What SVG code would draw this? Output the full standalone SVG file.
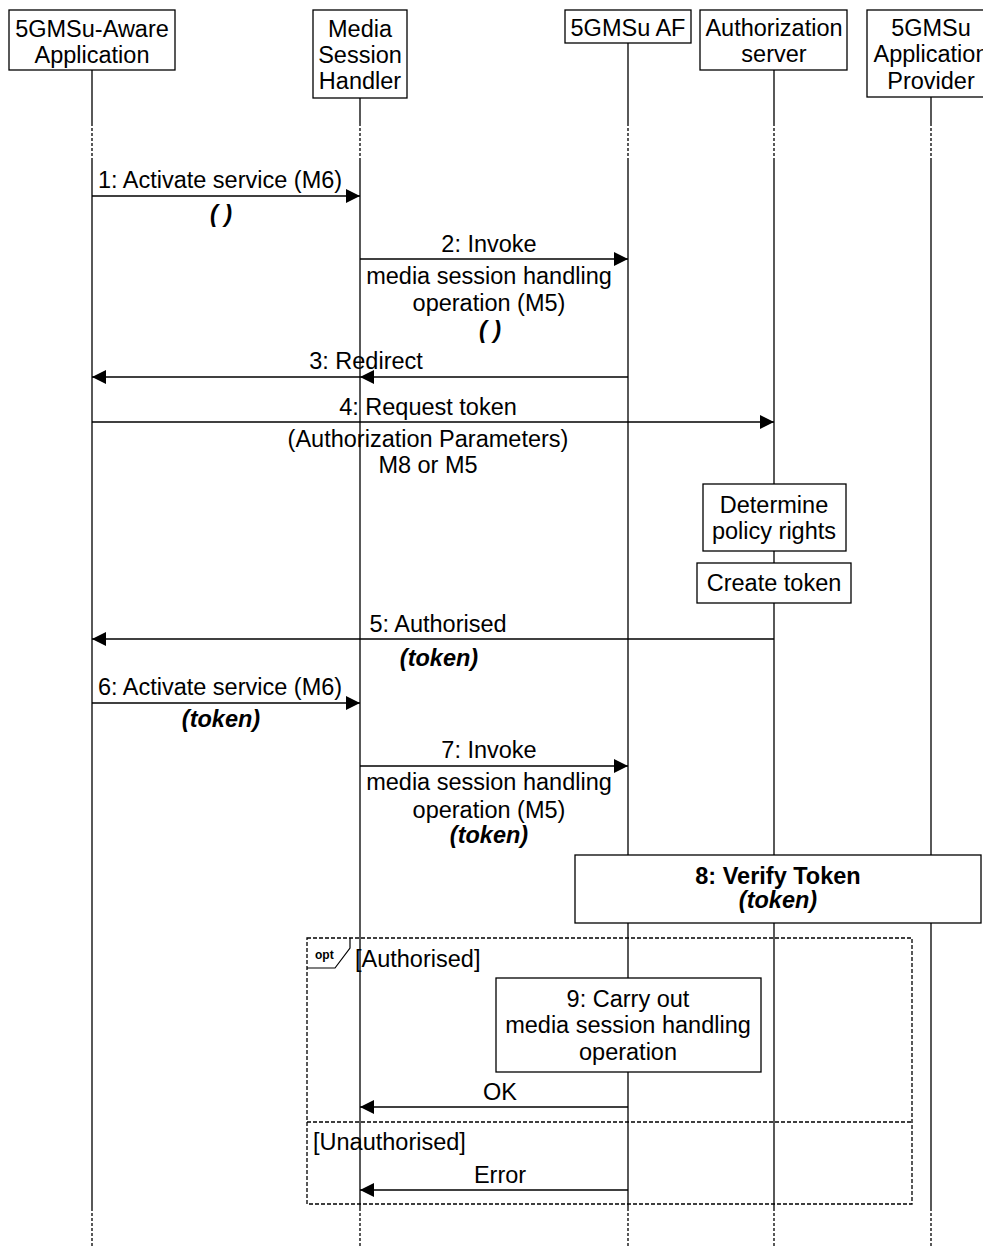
<svg xmlns="http://www.w3.org/2000/svg" width="983" height="1247" viewBox="0 0 983 1247">
<defs>
<marker id="ah" markerUnits="userSpaceOnUse" markerWidth="15" markerHeight="15" refX="14" refY="7" orient="auto">
<path d="M0,0 L14,7 L0,14 z" fill="#000"/>
</marker>
<style>
text{font-family:"Liberation Sans",Arial,sans-serif;font-size:23.5px;fill:#000;text-anchor:middle}
.bi{font-weight:bold;font-style:italic}
.b{font-weight:bold}
.l{text-anchor:start}
.box{fill:#fff;stroke:#000;stroke-width:1.3}
.ll{stroke:#000;stroke-width:1.3;fill:none}
.dl{stroke:#000;stroke-width:1.3;fill:none;stroke-dasharray:3,2}
.msg{stroke:#000;stroke-width:1.5;fill:none;marker-end:url(#ah)}
.frame{fill:none;stroke:#000;stroke-width:1.3;stroke-dasharray:4,2}
</style>
</defs>
<rect width="983" height="1247" fill="#fff"/>

<g id="lifelines">
<path class="ll" d="M92,70 V123 M92,158 V1208 M360,98 V123 M360,158 V1208 M628,43 V123 M628,158 V1208 M774,70 V123 M774,158 V1208 M931,97 V123 M931,158 V1208"/>
<path class="dl" d="M92,123 V158 M92,1208 V1247 M360,123 V158 M360,1208 V1247 M628,123 V158 M628,1208 V1247 M774,123 V158 M774,1208 V1247 M931,123 V158 M931,1208 V1247"/>
</g>

<g id="aware-app">
<rect class="box" x="9" y="10" width="166" height="60"/>
<text x="92" y="37">5GMSu-Aware</text>
<text x="92" y="63">Application</text>
</g>
<g id="msh">
<rect class="box" x="313" y="10" width="94" height="88"/>
<text x="360" y="37">Media</text>
<text x="360" y="63">Session</text>
<text x="360" y="89">Handler</text>
</g>
<g id="af">
<rect class="box" x="565" y="10" width="126" height="33"/>
<text x="628" y="36">5GMSu AF</text>
</g>
<g id="auth-server">
<rect class="box" x="700" y="10" width="147" height="60"/>
<text x="774" y="36">Authorization</text>
<text x="774" y="62">server</text>
</g>
<g id="provider">
<rect class="box" x="867" y="10" width="128" height="87"/>
<text x="931" y="36">5GMSu</text>
<text x="931" y="62">Application</text>
<text x="931" y="89">Provider</text>
</g>

<g id="connectors">
<line class="msg" x1="92" y1="196" x2="360" y2="196"/>
<line class="msg" x1="360" y1="259" x2="628" y2="259"/>
<line class="msg" x1="628" y1="377" x2="360" y2="377"/>
<line class="msg" x1="360" y1="377" x2="92" y2="377"/>
<line class="msg" x1="92" y1="422" x2="774" y2="422"/>
<line class="msg" x1="774" y1="639" x2="92" y2="639"/>
<line class="msg" x1="92" y1="703" x2="360" y2="703"/>
<line class="msg" x1="360" y1="766" x2="628" y2="766"/>
<line class="msg" x1="628" y1="1107" x2="360" y2="1107"/>
<line class="msg" x1="628" y1="1190" x2="360" y2="1190"/>
</g>

<g id="labels">
<text x="220" y="188">1: Activate service (M6)</text>
<text class="bi" x="221" y="222">( )</text>
<text x="489" y="252">2: Invoke</text>
<text x="489" y="284">media session handling</text>
<text x="489" y="311">operation (M5)</text>
<text class="bi" x="490" y="338">( )</text>
<text x="366" y="369">3: Redirect</text>
<text x="428" y="415">4: Request token</text>
<text x="428" y="447">(Authorization Parameters)</text>
<text x="428" y="473">M8 or M5</text>
<text x="438" y="632">5: Authorised</text>
<text class="bi" x="439" y="666">(token)</text>
<text x="220" y="695">6: Activate service (M6)</text>
<text class="bi" x="221" y="727">(token)</text>
<text x="489" y="758">7: Invoke</text>
<text x="489" y="790">media session handling</text>
<text x="489" y="818">operation (M5)</text>
<text class="bi" x="489" y="843">(token)</text>
<text x="500" y="1100">OK</text>
<text x="500" y="1183">Error</text>
</g>

<g id="determine-policy">
<rect class="box" x="703" y="484" width="143" height="67"/>
<text x="774" y="513">Determine</text>
<text x="774" y="539">policy rights</text>
</g>
<g id="create-token">
<rect class="box" x="697" y="563" width="154" height="40"/>
<text x="774" y="591">Create token</text>
</g>
<g id="verify-token">
<rect class="box" x="575" y="855" width="406" height="68"/>
<text class="b" x="778" y="884">8: Verify Token</text>
<text class="bi" x="778" y="908">(token)</text>
</g>

<g id="opt-frame">
<rect class="frame" x="307" y="938" width="605" height="266"/>
<line class="frame" x1="307" y1="1122" x2="912" y2="1122"/>
<path d="M307,968 H335 L350,948 V938" fill="none" stroke="#000" stroke-width="1.2"/>
<text class="b l" x="315" y="959" style="font-size:12px">opt</text>
<text class="l" x="355" y="967">[Authorised]</text>
<text class="l" x="313" y="1150">[Unauthorised]</text>
</g>
<g id="carry-out">
<rect class="box" x="496" y="978" width="265" height="94"/>
<text x="628" y="1007">9: Carry out</text>
<text x="628" y="1033">media session handling</text>
<text x="628" y="1060">operation</text>
</g>
</svg>
